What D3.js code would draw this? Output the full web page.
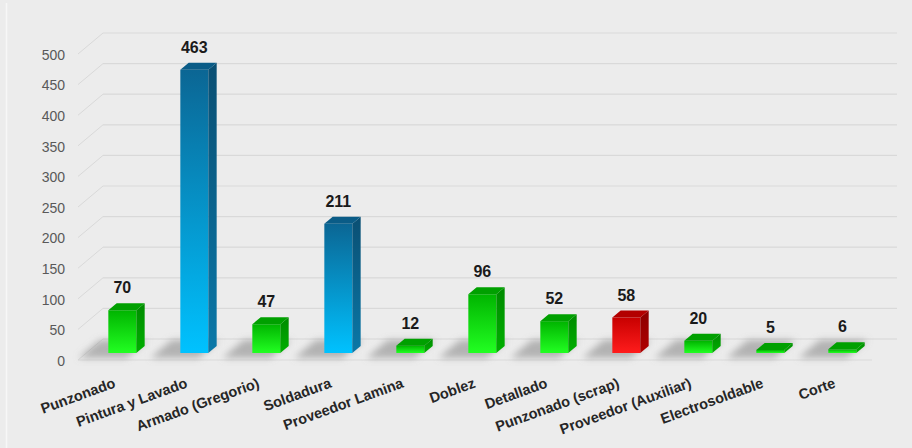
<!DOCTYPE html>
<html>
<head>
<meta charset="utf-8">
<script src="https://cdn.jsdelivr.net/npm/d3@7"></script>
<style>
  html, body { margin: 0; padding: 0; background: #ececec; }
  svg { display: block; }
</style>
</head>
<body>
<svg id="chart" width="912" height="448"></svg>
<script>
// ---- data ----
const categories = ["Punzonado", "Pintura y Lavado", "Armado (Gregorio)", "Soldadura", "Proveedor Lamina",
  "Doblez", "Detallado", "Punzonado (scrap)", "Proveedor (Auxiliar)", "Electrosoldable", "Corte"];
const values = [70, 463, 47, 211, 12, 96, 52, 58, 20, 5, 6];
const colorKeys = ["green", "blue", "green", "blue", "green", "green", "green", "red", "green", "green", "green"];
const yTicks = [0, 50, 100, 150, 200, 250, 300, 350, 400, 450, 500];

// ---- layout ----
const W = 912, H = 448;
const frontLeft = 78, frontRight = 870, frontY0 = 360;
const depthDX = 25, depthDY = -21;
const plotH = 306;

const svg = d3.select("#chart");
svg.append("rect").attr("width", W).attr("height", H).attr("fill", "#ececec");
svg.append("line").attr("x1", 6.5).attr("x2", 6.5).attr("y1", 3).attr("y2", H)
  .attr("stroke", "#f7f7f7").attr("stroke-width", 1.5);

const x = d3.scaleBand().domain(categories).range([frontLeft, frontRight])
  .paddingInner(0.611).paddingOuter(0.3055);
const y = d3.scaleLinear().domain([0, 500]).range([0, plotH]);

// point at (xFront, value, depth fraction f)
function P(xf, v, f) { return [xf + depthDX * f, frontY0 + depthDY * f - y(v)]; }

const defs = svg.append("defs");
const palettes = {
  green: { f0: "#00b400", f1: "#22ff22", s0: "#008a00", s1: "#00b000", t: "#00a000" },
  blue:  { f0: "#0b6694", f1: "#00c2ff", s0: "#0a4f73", s1: "#0a78a8", t: "#0a5c87" },
  red:   { f0: "#c80000", f1: "#ff1c1c", s0: "#8a0000", s1: "#b00000", t: "#b30000" }
};
Object.entries(palettes).forEach(([k, p]) => {
  const gf = defs.append("linearGradient").attr("id", "f-" + k).attr("x1", 0).attr("y1", 0).attr("x2", 0).attr("y2", 1);
  gf.append("stop").attr("offset", "0%").attr("stop-color", p.f0);
  gf.append("stop").attr("offset", "100%").attr("stop-color", p.f1);
  const gs = defs.append("linearGradient").attr("id", "s-" + k).attr("x1", 0).attr("y1", 0).attr("x2", 0).attr("y2", 1);
  gs.append("stop").attr("offset", "0%").attr("stop-color", p.s0);
  gs.append("stop").attr("offset", "100%").attr("stop-color", p.s1);
});
defs.append("filter").attr("id", "blur").attr("x", "-50%").attr("y", "-50%").attr("width", "200%").attr("height", "200%")
  .append("feGaussianBlur").attr("stdDeviation", 3.5);

const poly = pts => pts.map(p => p.join(",")).join(" ");

// ---- gridlines (back wall + side wall) ----
const grid = svg.append("g");
yTicks.forEach(t => {
  const b0 = P(frontLeft, t, 1), b1 = P(frontRight + 2, t, 1), f0 = P(frontLeft, t, 0);
  grid.append("line").attr("x1", b0[0]).attr("y1", b0[1]).attr("x2", b1[0]).attr("y2", b1[1])
    .attr("stroke", t === 0 ? "#d6d6d6" : "#d9d9d9").attr("stroke-width", 1.2);
  grid.append("line").attr("x1", f0[0]).attr("y1", f0[1]).attr("x2", b0[0]).attr("y2", b0[1])
    .attr("stroke", "#d9d9d9").attr("stroke-width", 1);
});
// floor front edge
{
  const a = P(frontLeft, 0, 0), b = P(frontRight + 2, 0, 0);
  grid.append("line").attr("x1", a[0]).attr("y1", a[1]).attr("x2", b[0]).attr("y2", b[1])
    .attr("stroke", "#d9d9d9").attr("stroke-width", 1.2);
}

// ---- tick labels ----
svg.append("g").selectAll("text").data(yTicks).join("text")
  .attr("x", 65).attr("y", d => P(frontLeft, d, 0)[1] + 2)
  .attr("text-anchor", "end").attr("dominant-baseline", "middle")
  .attr("font-family", "'Liberation Sans', Arial, sans-serif")
  .attr("font-size", 14).attr("fill", "#595959")
  .text(d => d);

// ---- shadows on floor ----
const shadows = svg.append("g").attr("filter", "url(#blur)");
categories.forEach((c, i) => {
  const xl = x(c), xr = x(c) + x.bandwidth();
  const pts = [P(xl - 24, 0, 0.95), P(xr - 4, 0, 0.95), P(xr - 4, 0, 0.1), P(xl - 24, 0, 0.1)];
  shadows.append("polygon").attr("points", poly(pts)).attr("fill", "#8c8c8c").attr("opacity", 0.6);
});

// ---- bars ----
const bars = svg.append("g");
const f1 = 1 / 3, f2 = 2 / 3;
categories.forEach((c, i) => {
  const v = values[i], k = colorKeys[i], pal = palettes[k];
  const xl = x(c), xr = x(c) + x.bandwidth();
  const g = bars.append("g");
  // front face
  g.append("polygon").attr("points", poly([P(xl, 0, f1), P(xr, 0, f1), P(xr, v, f1), P(xl, v, f1)]))
    .attr("fill", `url(#f-${k})`);
  // side face
  g.append("polygon").attr("points", poly([P(xr, 0, f1), P(xr, 0, f2), P(xr, v, f2), P(xr, v, f1)]))
    .attr("fill", `url(#s-${k})`);
  // top face
  g.append("polygon").attr("points", poly([P(xl, v, f1), P(xr, v, f1), P(xr, v, f2), P(xl, v, f2)]))
    .attr("fill", pal.t);
});

// ---- value labels ----
svg.append("g").selectAll("text").data(categories).join("text")
  .attr("x", c => P(x(c) + x.bandwidth() / 2, 0, f1)[0])
  .attr("y", (c, i) => P(x(c), values[i], f2)[1] - 10)
  .attr("text-anchor", "middle")
  .attr("font-family", "'Liberation Sans', Arial, sans-serif")
  .attr("font-weight", "bold").attr("font-size", 16).attr("fill", "#1a1a1a")
  .text((c, i) => values[i]);

// ---- category labels ----
svg.append("g").selectAll("text").data(categories).join("text")
  .attr("transform", c => {
    const cx = P(x(c) + x.bandwidth() / 2, 0, f1)[0] - 6;
    return `translate(${cx},387) rotate(-20)`;
  })
  .attr("text-anchor", "end")
  .attr("font-family", "'Liberation Sans', Arial, sans-serif")
  .attr("font-weight", "bold").attr("font-size", 14.5).attr("fill", "#262626")
  .text(c => c);
</script>
</body>
</html>
